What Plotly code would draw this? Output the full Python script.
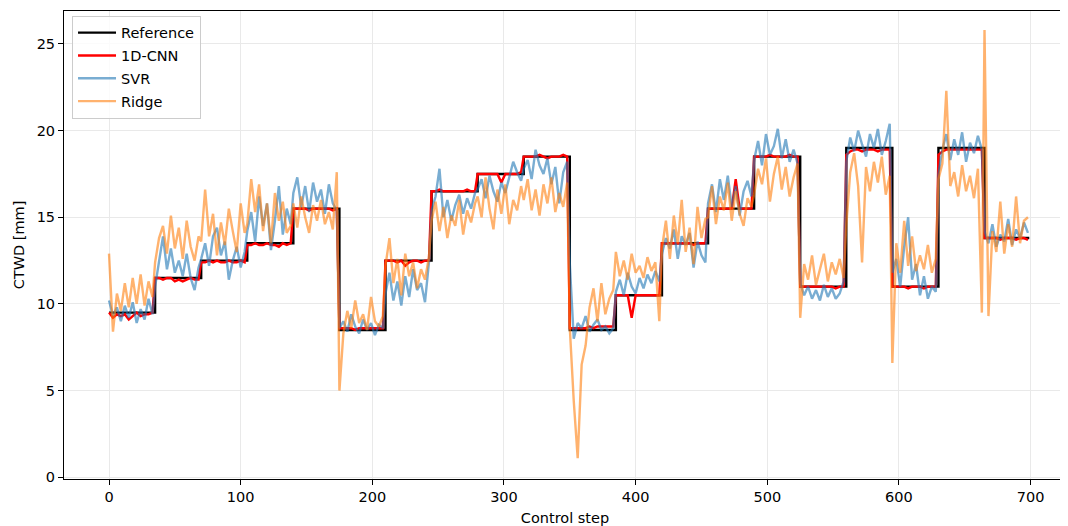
import plotly.graph_objects as go

# ---------------- data ----------------
segment_len = 35
segment_starts = list(range(0, 700, segment_len))          # 20 set-point segments
last_step = 699
reference_levels = [9.5, 11.5, 12.5, 13.5, 15.5, 8.5, 12.5, 16.5, 17.5, 18.5,
                    8.5, 10.5, 13.5, 15.5, 18.5, 11.0, 19.0, 11.0, 19.0, 13.8]

# predictions sampled every 3 control steps inside each segment
sample_offsets = [0, 3, 6, 9, 12, 15, 18, 21, 24, 27, 30, 33]

cnn_values = [
    [9.5, 9.2, 9.4, 9.3, 9.4, 9.1, 9.3, 9.5, 9.3, 9.4, 9.4, 9.5],
    [11.5, 11.5, 11.4, 11.5, 11.5, 11.3, 11.4, 11.3, 11.4, 11.5, 11.4, 11.4],
    [12.4, 12.4, 12.5, 12.4, 12.5, 12.4, 12.4, 12.5, 12.4, 12.4, 12.5, 12.4],
    [13.4, 13.4, 13.5, 13.4, 13.4, 13.5, 13.4, 13.4, 13.3, 13.5, 13.4, 13.5],
    [15.5, 15.5, 15.5, 15.5, 15.4, 15.5, 15.5, 15.5, 15.5, 15.5, 15.4, 15.5],
    [8.6, 8.6, 8.6, 8.6, 8.5, 8.6, 8.6, 8.6, 8.6, 8.6, 8.6, 8.6],
    [12.5, 12.5, 12.5, 12.4, 12.5, 12.2, 12.4, 12.5, 12.5, 12.4, 12.5, 12.5],
    [16.5, 16.5, 16.6, 16.5, 16.5, 16.5, 16.5, 16.5, 16.5, 16.6, 16.5, 16.5],
    [17.5, 17.5, 17.5, 17.5, 17.5, 17.5, 17.0, 17.5, 17.5, 17.5, 17.5, 17.6],
    [18.5, 18.5, 18.5, 18.5, 18.6, 18.5, 18.4, 18.5, 18.5, 18.5, 18.6, 18.5],
    [8.6, 8.6, 8.6, 8.6, 8.6, 8.7, 8.6, 8.7, 8.7, 8.7, 8.7, 8.7],
    [10.5, 10.5, 10.5, 10.5, 9.2, 10.5, 10.5, 10.5, 10.5, 10.5, 10.5, 10.5],
    [13.5, 13.5, 13.5, 13.5, 13.5, 13.5, 13.5, 13.5, 13.4, 13.5, 13.5, 13.5],
    [15.5, 15.5, 15.5, 15.5, 15.5, 15.5, 15.5, 17.2, 15.5, 15.5, 15.5, 15.5],
    [18.5, 18.5, 18.5, 18.5, 18.6, 18.5, 18.5, 18.5, 18.5, 18.6, 18.5, 18.5],
    [11.0, 11.0, 11.0, 11.0, 11.0, 11.0, 11.0, 11.0, 11.0, 10.9, 11.0, 11.0],
    [18.6, 18.8, 18.9, 18.9, 18.8, 18.9, 18.9, 18.9, 18.8, 18.9, 18.9, 18.9],
    [11.0, 11.0, 11.0, 11.0, 10.9, 11.0, 11.0, 11.0, 10.9, 11.0, 11.0, 11.0],
    [18.6, 18.8, 18.9, 18.9, 18.9, 18.9, 18.9, 18.9, 18.9, 18.9, 18.9, 18.9],
    [13.8, 13.8, 13.8, 13.8, 13.7, 13.8, 13.8, 13.8, 13.7, 13.8, 13.8, 13.7],
]

svr_values = [
    [10.2, 9.3, 9.8, 9.0, 9.9, 9.2, 10.1, 8.9, 9.7, 9.1, 10.3, 9.4],
    [11.0, 12.6, 13.9, 12.0, 13.2, 11.8, 12.5, 11.6, 12.9, 11.5, 10.8, 12.1],
    [12.6, 13.5, 12.2, 13.9, 14.4, 12.8, 13.6, 11.4, 12.5, 13.3, 12.1, 13.0],
    [14.2, 15.3, 13.6, 16.2, 14.5, 15.8, 13.1, 14.8, 16.8, 14.0, 15.5, 14.6],
    [16.4, 17.3, 15.6, 16.8, 15.3, 17.0, 15.9, 16.6, 15.2, 16.9, 15.8, 15.4],
    [8.6, 9.0, 8.4, 9.4, 8.7, 8.3, 9.1, 8.5, 8.9, 8.2, 8.8, 8.6],
    [10.6, 11.8, 10.2, 11.3, 9.9, 11.6, 10.4, 12.0, 10.8, 11.2, 10.1, 12.4],
    [15.4, 16.2, 17.8, 15.0, 16.0, 14.8, 15.7, 16.3, 15.2, 16.1, 15.5, 16.4],
    [16.6, 17.2, 16.1, 17.4, 16.5, 15.9, 17.0, 16.4, 17.3, 18.2, 17.6, 17.1],
    [17.8, 18.3, 17.2, 18.9, 18.0, 17.5, 18.4, 16.9, 17.9, 15.8, 17.6, 18.2],
    [12.3, 8.0, 8.9, 8.6, 9.3, 8.4, 8.8, 9.1, 8.5, 8.7, 8.3, 8.6],
    [10.7, 11.4, 10.5, 11.8, 11.0, 10.6, 11.5, 10.9, 11.7, 11.2, 11.9, 11.3],
    [12.9, 13.8, 13.2, 14.3, 12.6, 13.9, 13.4, 14.1, 12.1, 13.6, 12.8, 12.4],
    [15.8, 16.9, 15.3, 17.2, 16.0, 17.4, 15.6, 16.8, 15.1, 16.5, 17.1, 16.2],
    [18.3, 19.4, 18.0, 19.8, 18.6, 19.1, 20.1, 18.4, 19.5, 18.2, 18.9, 18.1],
    [11.2, 10.5, 11.0, 10.3, 10.8, 10.2, 11.1, 10.4, 10.9, 10.3, 10.6, 11.3],
    [18.2, 19.6, 18.8, 20.0, 19.2, 18.5, 19.8, 19.0, 20.1, 18.6, 19.4, 20.4],
    [11.8, 12.6, 11.0, 13.3, 15.0, 11.4, 12.3, 10.5, 11.6, 10.3, 11.0, 10.7],
    [17.5, 18.9, 19.8, 18.3, 19.5, 18.6, 19.9, 18.2, 19.3, 18.7, 19.7, 18.9],
    [14.2, 13.5, 14.6, 13.3, 14.0, 13.6, 14.9, 13.4, 14.3, 13.8, 14.7, 14.1],
]

ridge_values = [
    [12.9, 8.4, 10.6, 9.6, 11.2, 9.8, 11.5, 10.0, 11.7, 9.9, 11.3, 10.4],
    [12.4, 13.8, 14.5, 12.9, 15.1, 13.2, 14.4, 12.6, 14.8, 13.3, 12.5, 13.9],
    [13.6, 16.6, 13.9, 15.2, 12.8, 14.7, 13.4, 15.5, 14.2, 13.0, 15.8, 14.1],
    [14.6, 17.2, 15.3, 16.9, 14.2, 15.8, 13.5, 16.4, 14.8, 15.9, 14.1, 14.5],
    [15.8, 14.4, 16.2, 15.0, 14.1, 15.7, 14.8, 16.0, 14.6, 15.3, 14.3, 17.6],
    [5.0, 8.3, 9.6, 8.6, 10.2, 8.9, 9.4, 8.5, 10.4, 9.0, 8.7, 9.3],
    [12.2, 13.8, 11.2, 12.6, 10.5, 12.9, 11.6, 12.4, 10.9, 12.0, 11.4, 12.7],
    [14.8, 15.9, 14.2, 15.6, 13.8, 15.1, 14.5, 16.0, 14.0, 15.4, 14.7, 15.8],
    [16.2, 15.0, 17.3, 15.5, 14.3, 16.6, 15.2, 16.9, 14.6, 16.0, 15.4, 16.8],
    [16.0, 17.2, 15.4, 16.6, 15.1, 16.9, 15.8, 17.3, 15.3, 16.4, 15.6, 17.0],
    [8.6, 4.4, 1.1, 6.5, 7.6, 9.8, 10.9, 9.0, 11.2, 9.4, 10.3, 10.8],
    [13.0, 11.6, 12.5, 11.4, 12.9, 11.8, 12.2, 11.5, 12.7, 11.9, 12.4, 9.0],
    [13.2, 14.8, 12.6, 15.1, 13.5, 16.0, 13.0, 14.4, 12.3, 15.6, 13.8, 14.9],
    [15.0, 16.8, 14.6, 16.2, 15.4, 17.0, 14.8, 16.5, 15.2, 14.5, 16.1, 15.6],
    [16.3, 17.8, 16.9, 18.4, 15.9, 17.5, 18.5, 16.6, 17.9, 16.2, 17.3, 18.1],
    [9.2, 12.3, 11.4, 12.8, 11.1, 12.0, 12.9, 11.3, 12.4, 11.7, 12.6, 11.5],
    [14.5, 17.6, 18.7, 16.8, 12.4, 17.9, 16.5, 18.2, 17.0, 18.5, 16.3, 17.4],
    [6.6, 13.5, 11.8, 14.8, 12.2, 13.9, 11.9, 12.8, 12.0, 13.4, 11.8, 12.6],
    [17.2, 18.1, 22.3, 16.8, 17.6, 16.2, 18.0, 16.5, 17.4, 16.1, 17.8, 9.5],
    [25.8, 9.3, 14.2, 13.0, 15.9, 12.9, 14.6, 13.3, 16.2, 13.5, 14.8, 15.0],
]

x_label = "Control step"
y_label = "CTWD [mm]"
x_ticks = [0, 100, 200, 300, 400, 500, 600, 700]
y_ticks = [0, 5, 10, 15, 20, 25]

# ---------------- build ----------------
pred_x = [s + o for s in segment_starts for o in sample_offsets]


def flat(seg_lists):
    return [v for seg in seg_lists for v in seg]


ref_x = segment_starts + [last_step]
ref_y = reference_levels + [reference_levels[-1]]

FONT = "DejaVu Sans"
FS = 14.5

fig = go.Figure()
fig.add_trace(go.Scatter(x=ref_x, y=ref_y, mode="lines", name="Reference",
                         line=dict(color="black", width=2.4, shape="hv"),
                         legendgroup="a"))
fig.add_trace(go.Scatter(x=pred_x, y=flat(cnn_values), mode="lines", name="1D-CNN",
                         line=dict(color="#ff0000", width=2.4), legendgroup="b"))
fig.add_trace(go.Scatter(x=pred_x, y=flat(svr_values), mode="lines", name="SVR",
                         line=dict(color="rgba(31,119,180,0.6)", width=2.4),
                         legendgroup="c"))
fig.add_trace(go.Scatter(x=pred_x, y=flat(ridge_values), mode="lines", name="Ridge",
                         line=dict(color="rgba(255,127,14,0.6)", width=2.4),
                         legendgroup="d"))

axis_common = dict(showline=True, linecolor="black", linewidth=1, mirror=True,
                   ticks="outside", ticklen=5, tickcolor="black", tickwidth=1,
                   showgrid=True, gridcolor="#e9e9e9", gridwidth=1, zeroline=False,
                   automargin=False,
                   tickfont=dict(family=FONT, size=FS, color="black"))

fig.update_xaxes(range=[-34.2, 726.9], tickvals=x_ticks,
                 title=dict(text=x_label, standoff=12,
                            font=dict(family=FONT, size=FS, color="black")),
                 **axis_common)
fig.update_yaxes(range=[-0.1, 26.9], tickvals=y_ticks,
                 title=dict(text=y_label, standoff=8,
                            font=dict(family=FONT, size=FS, color="black")),
                 **axis_common)

# the page body has an 8 px margin, so the figure is sized to fit the window
fig.update_layout(
    width=1060, height=518,
    margin=dict(l=56, r=2, t=3, b=47, autoexpand=False),
    paper_bgcolor="white", plot_bgcolor="white",
    font=dict(family=FONT, size=FS, color="black"),
    showlegend=True,
    legend=dict(x=0.008, y=0.99, xanchor="left", yanchor="top",
                bgcolor="rgba(255,255,255,0.8)", bordercolor="#cccccc", borderwidth=1,
                font=dict(family=FONT, size=FS, color="black"),
                itemwidth=38,
                traceorder="grouped", tracegroupgap=1),
)

fig.write_html("out.html")
